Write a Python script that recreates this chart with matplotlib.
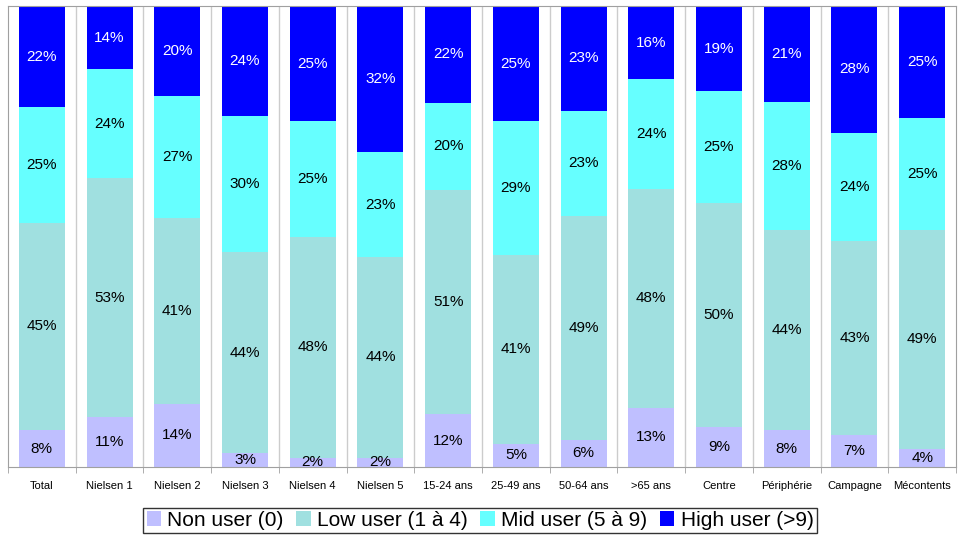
import numpy as np
import matplotlib.pyplot as plt

categories = ['Total', 'Nielsen 1', 'Nielsen 2', 'Nielsen 3', 'Nielsen 4', 'Nielsen 5',
              '15-24 ans', '25-49 ans', '50-64 ans', '>65 ans', 'Centre',
              'Périphérie', 'Campagne', 'Mécontents']
non_user = [8, 11, 14, 3, 2, 2, 12, 5, 6, 13, 9, 8, 7, 4]
low_user = [45, 53, 41, 44, 48, 44, 51, 41, 49, 48, 50, 44, 43, 49]
mid_user = [25, 24, 27, 30, 25, 23, 20, 29, 23, 24, 25, 28, 24, 25]
high_user = [22, 14, 20, 24, 25, 32, 22, 25, 23, 16, 19, 21, 28, 25]

series = [
    ('Non user (0)', non_user, '#BFBFFF', 'black'),
    ('Low user (1 à 4)', low_user, '#A0E0E0', 'black'),
    ('Mid user (5 à 9)', mid_user, '#66FFFF', 'black'),
    ('High user (>9)', high_user, '#0000FF', 'white'),
]

# 100% stacked: each column is scaled to its own total
totals = np.sum([s[1] for s in series], axis=0).astype(float)

fig = plt.figure(figsize=(9.6, 5.35), dpi=100)
ax = fig.add_axes([8 / 960, 1 - 467 / 535, 948 / 960, 461 / 535])

x = np.arange(len(categories))
bottom = np.zeros(len(categories))
for name, vals, color, tcol in series:
    share = np.array(vals) / totals * 100
    ax.bar(x, share, bottom=bottom, width=0.68, color=color, label=name, zorder=2)
    for xi, b, h, v in zip(x, bottom, share, vals):
        ax.text(xi, b + h / 2, f'{v}%', ha='center', va='center',
                fontsize=11, color=tcol, family='Liberation Sans', zorder=3)
    bottom += share

ax.set_xlim(-0.5, len(categories) - 0.5)
ax.set_ylim(0, 100)
ax.set_yticks([])
ax.set_xticks(x)
ax.set_xticklabels(categories, fontsize=8, family='Liberation Sans')
ax.tick_params(axis='x', which='major', length=0, pad=10)
ax.set_xticks(np.arange(-0.5, len(categories)), minor=True)
ax.tick_params(axis='x', which='minor', length=4, color='#A0A0A0')
for b in np.arange(0.5, len(categories) - 1):
    ax.axvline(b, color='#CCCCCC', lw=1, zorder=1)
for sp in ax.spines.values():
    sp.set_color('#A0A0A0')

fig.legend(loc='lower center', bbox_to_anchor=(0.5, -0.004), ncol=4,
           prop={'family': 'Liberation Sans', 'size': 15}, frameon=True,
           fancybox=False, edgecolor='black', handlelength=0.7, handleheight=0.7,
           handletextpad=0.3, columnspacing=0.6, borderpad=0.15, borderaxespad=0.2)

fig.savefig('out.png', dpi=100)
